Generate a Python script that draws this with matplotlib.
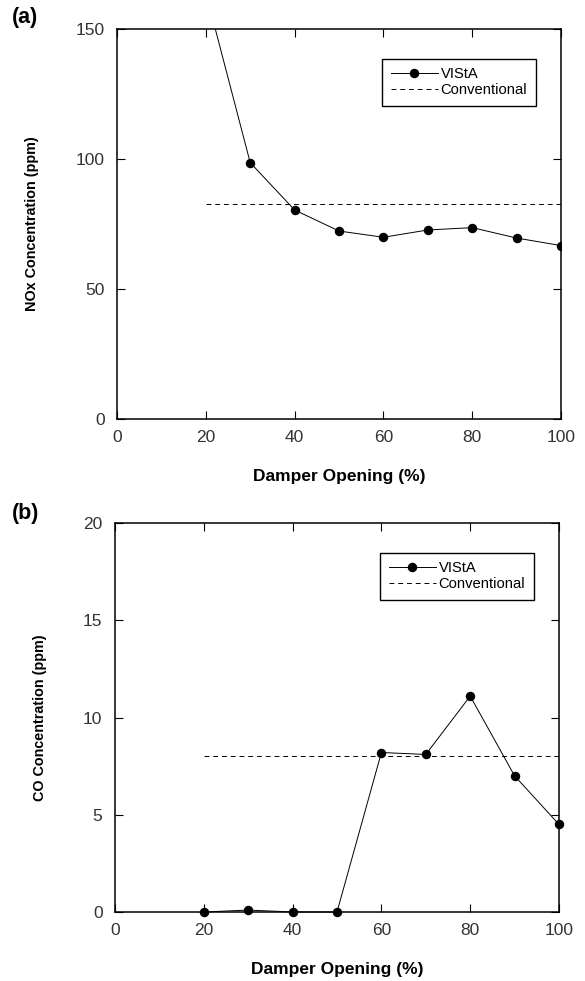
import matplotlib.pyplot as plt

plt.rcParams['font.family'] = ['Liberation Sans', 'DejaVu Sans']

# damper opening (%)
damper = [20, 30, 40, 50, 60, 70, 80, 90, 100]

# NOx (ppm); the 20% point sits above the plot limit
nox_vista = [164, 98.6, 80.4, 72.3, 69.9, 72.7, 73.6, 69.6, 66.7]
nox_conv = 82.6

# CO (ppm)
co_vista = [0, 0.1, 0, 0, 8.2, 8.1, 11.1, 7.0, 4.5]
co_conv = 8.0

W, H = 585, 981
fig = plt.figure(figsize=(W / 100, H / 100), dpi=100)


def make_axes(left, right, top, bottom):
    return fig.add_axes([left / W, 1 - bottom / H, (right - left) / W, (bottom - top) / H])


def style(ax, ymax, yticks, ylabel, tag, tag_y):
    ax.set_xlim(0, 100)
    ax.set_ylim(0, ymax)
    ax.set_xticks([0, 20, 40, 60, 80, 100])
    ax.set_yticks(yticks)
    ax.tick_params(direction="in", top=True, right=True, length=6, width=0.8,
                   labelsize=12.5, labelcolor="#333333", pad=8)
    ax.tick_params(axis="y", pad=9)
    for s in ax.spines.values():
        s.set_linewidth(1.1)
    ax.set_xlabel("Damper Opening (%)", fontsize=12.5, fontweight="bold", labelpad=17)
    ax.set_ylabel(ylabel, fontsize=10.4, fontweight="bold", labelpad=26)
    fig.text(12 / W, 1 - tag_y / H, tag, fontsize=15.5, fontweight="bold", va="center")
    leg = ax.legend(loc="upper right", bbox_to_anchor=(0.944, 0.924), fontsize=10.6,
                    fancybox=False, edgecolor="black", framealpha=1, borderaxespad=0,
                    handlelength=3.2, borderpad=0.6, labelspacing=0.1, handletextpad=0.2)
    leg.get_frame().set_linewidth(1.0)


# (a) NOx
ax1 = make_axes(117, 561, 29, 419)
ax1.plot(damper, nox_vista, color="black", lw=0.7, marker="o", ms=5.8, label="VIStA")
ax1.plot([damper[0], damper[-1]], [nox_conv, nox_conv], color="black", lw=0.7,
         ls=(0, (5, 4)), label="Conventional")
style(ax1, 150, [0, 50, 100, 150], "NOx Concentration (ppm)", "(a)", 17)

# (b) CO
ax2 = make_axes(115, 559, 523, 912)
ax2.plot(damper, co_vista, color="black", lw=0.7, marker="o", ms=5.8, label="VIStA",
         clip_on=False)
ax2.plot([damper[0], damper[-1]], [co_conv, co_conv], color="black", lw=0.7,
         ls=(0, (5, 4)), label="Conventional")
style(ax2, 20, [0, 5, 10, 15, 20], "CO Concentration (ppm)", "(b)", 513)

fig.savefig("out.png", dpi=100)
